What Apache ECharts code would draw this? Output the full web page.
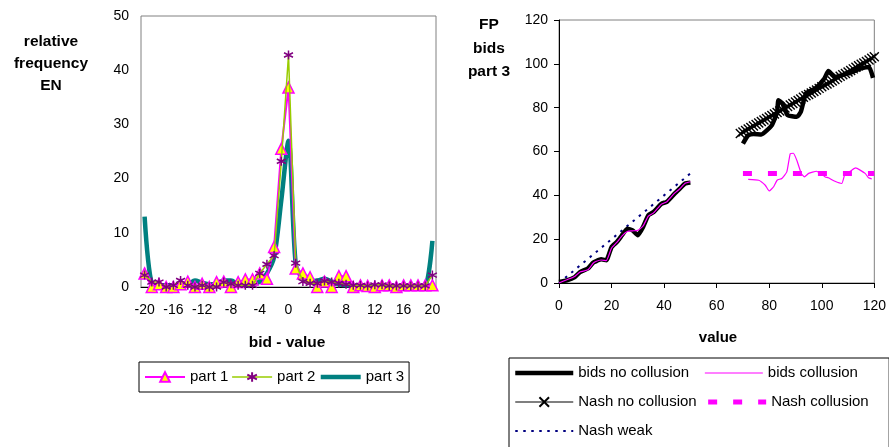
<!DOCTYPE html>
<html>
<head>
<meta charset="utf-8">
<script src="https://cdn.jsdelivr.net/npm/echarts@6/dist/echarts.min.js"></script>
<style>
html, body { margin: 0; padding: 0; background: #fff; }
#chart { width: 889px; height: 447px; }
</style>
</head>
<body>
<div id="chart"></div>
<script>
// left panel: relative frequency of bid - value
const bidDiffs = [-20, -19, -18, -17, -16, -15, -14, -13, -12, -11, -10, -9, -8, -7, -6, -5, -4, -3, -2, -1,
  0, 1, 2, 3, 4, 5, 6, 7, 8, 9, 10, 11, 12, 13, 14, 15, 16, 17, 18, 19, 20]
const part1 = [2.5, 0, 0.5, 0, 0, 0.5, 1, 0, 0.6, 0, 0.9, 1, 0, 0.9, 1.4, 1.4, 2.5, 1.5, 7.4, 25.5,
  36.8, 3.4, 2.5, 1.8, 0, 1, 0, 2, 2, 0, 0.3, 0.2, 0, 0.3, 0.3, 0, 0.3, 0.3, 0.3, 0.3, 0.3]
const part2 = [2.2, 0.9, 0.9, 0, 0.3, 1.2, 0.3, 0, 0.3, 0, 0, 0.9, 0.6, 0.3, 0.3, 0.3, 2.5, 4.2, 5.8, 23.2,
  42.8, 4.4, 1, 0.7, 0.7, 1.1, 0.9, 0.7, 0.5, 0.3, 0.3, 0.2, 0.4, 0.4, 0.2, 0.2, 0.2, 0.2, 0.2, 0.2, 2.2]
const part3 = [13, 0.6, 0.3, 0.3, 0.3, 0.5, 0.5, 1.2, 0.8, 0.5, 0.5, 1.2, 1.2, 0.5, 0.3, 0.5, 1, 2.5, 5.5, 16,
  27, 4.3, 1.5, 1, 1.2, 1.5, 1, 0.5, 0.3, 0.3, 0.2, 0.2, 0.2, 0.2, 0.2, 0.2, 0.2, 0.2, 0.2, 0.3, 8.5]

// right panel: FP bids part 3
const lowValues = [0, 3, 6, 8, 11, 13, 14, 16, 18, 20, 22, 24, 26, 28, 30, 32, 34, 36, 39, 41, 44, 46, 48, 50]
const bidsNoCollLow = [0.5, 1.2, 2.7, 5, 6.6, 9.3, 9.9, 10.8, 10.4, 16.4, 18.7, 21.8, 24.8, 24, 21.8, 25.6,
  30.9, 32.4, 36.2, 37, 40.8, 43.1, 45.4, 45.8]
const bidsCollLow = [0, 1.5, 3, 5, 6, 9, 9.8, 10.5, 10.2, 16, 18.5, 21.5, 23.5, 23.8, 24, 26,
  30.5, 32, 36, 37, 41, 43, 45.5, 46.2]
const highValuesNoColl = [70, 72, 74, 77, 81, 83, 83.5, 85, 87, 90.5, 92, 94, 97.5, 101, 102.5, 105, 110, 115, 118, 119.5]
const bidsNoCollHigh = [63.6, 67.4, 68, 67.8, 72, 78, 83.4, 82, 76.6, 75.8, 78, 86.5, 88.7, 93.3, 96.7, 94,
  95.6, 97.9, 98.6, 93.6]
const highValuesColl = [72, 76, 78.5, 80, 81.6, 83, 84.8, 86.7, 88, 89.2, 90.5, 92.2, 93.4, 95, 98, 99.4,
  101.3, 102.5, 105, 107.6, 108.9, 110.8, 112.9, 114.6, 116.5, 117.8, 119]
const bidsCollHigh = [47.3, 46.9, 44.6, 42, 43.8, 46.9, 47.7, 50.7, 59, 59.2, 56, 50, 48.4, 50, 51, 50,
  48.4, 48, 46.4, 45.4, 50, 51, 52.5, 51.5, 50, 48, 47.5]
const nashValues = [69, 70, 71, 72, 73, 74, 75, 76, 77, 78, 79, 80, 81, 82, 83, 84, 85, 86, 87, 88, 89, 90,
  91, 92, 93, 94, 95, 96, 97, 98, 99, 100, 101, 102, 103, 104, 105, 106, 107, 108, 109, 110,
  111, 112, 113, 114, 115, 116, 117, 118, 119, 120]
const nashNoColl = [68.2, 68.9, 69.6, 70.3, 70.9, 71.6, 72.3, 73.0, 73.7, 74.4, 75.1, 75.7, 76.4, 77.1, 77.8,
  78.5, 79.2, 79.9, 80.5, 81.2, 81.9, 82.6, 83.3, 84.0, 84.7, 85.4, 86.0, 86.7, 87.4, 88.1, 88.8, 89.5,
  90.2, 90.8, 91.5, 92.2, 92.9, 93.6, 94.3, 95.0, 95.6, 96.3, 97.0, 97.7, 98.4, 99.1, 99.8, 100.4,
  101.1, 101.8, 102.5, 103.2]
const nashCollValues = [70, 120]
const nashColl = [50, 50]
const weakValues = [0, 50]
const nashWeak = [0, 50]

const font = 'Liberation Sans, Arial, sans-serif'
const pairs = (xs, ys) => xs.map((x, i) => [x, ys[i]])
const gap = [[60, '-']]

const axisBase = {
  axisLine: { lineStyle: { color: '#000', width: 1 } },
  axisTick: { lineStyle: { color: '#000' }, length: 5 },
  axisLabel: { color: '#000', fontSize: 14, fontFamily: font },
  splitLine: { show: false },
}

const title = (text, x, y, size) => ({
  type: 'text', x, y,
  style: { text, font: 'bold ' + size + 'px ' + font, fill: '#000', textAlign: 'center', textVerticalAlign: 'middle' },
})

const chart = echarts.init(document.getElementById('chart'))
chart.setOption({
  animation: false,
  backgroundColor: '#fff',
  textStyle: { fontFamily: font },
  grid: [
    { left: 141, top: 16, width: 295, height: 271, show: true, borderColor: '#808080', borderWidth: 1 },
    { left: 559, top: 20, width: 318, height: 263, show: true, borderColor: '#808080', borderWidth: 1 },
  ],
  xAxis: [
    {
      ...axisBase,
      gridIndex: 0,
      type: 'category',
      data: bidDiffs.map(String),
      boundaryGap: true,
      axisTick: { ...axisBase.axisTick, interval: 19 },
      axisLabel: { ...axisBase.axisLabel, interval: 3, margin: 16 },
    },
    {
      ...axisBase,
      gridIndex: 1,
      type: 'value',
      min: 0, max: 120, interval: 20,
      axisLabel: { ...axisBase.axisLabel, margin: 16 },
    },
  ],
  yAxis: [
    { ...axisBase, gridIndex: 0, type: 'value', min: 0, max: 50, interval: 10,
      axisLabel: { ...axisBase.axisLabel, margin: 12 } },
    { ...axisBase, gridIndex: 1, type: 'value', min: 0, max: 120, interval: 20,
      axisLabel: { ...axisBase.axisLabel, margin: 11 } },
  ],
  legend: [
    {
      left: 139, top: 362,
      padding: [6, 5, 6, 5],
      itemWidth: 40, itemHeight: 12, itemGap: 3,
      borderColor: '#000', borderWidth: 1,
      textStyle: { color: '#000', fontSize: 15, fontFamily: font, lineHeight: 18 },
      lineStyle: { width: 'inherit' },
      data: ['part 1', 'part 2', 'part 3'],
    },
    {
      left: 509, top: 358, width: 375,
      padding: [5, 1, 30, 4],
      itemWidth: 58, itemHeight: 12, itemGap: 9,
      borderColor: '#000', borderWidth: 1,
      textStyle: { color: '#000', fontSize: 15, fontFamily: font, lineHeight: 20, width: 117 },
      lineStyle: { width: 'inherit' },
      data: ['bids no collusion', 'bids collusion', 'Nash no collusion', 'Nash collusion', 'Nash weak'],
    },
  ],
  graphic: [
    title('relative', 51, 42, 15.5),
    title('frequency', 51, 64, 15.5),
    title('EN', 51, 86, 15.5),
    title('bid - value', 287, 343, 15.5),
    title('FP', 489, 25, 15.5),
    title('bids', 489, 49, 15.5),
    title('part 3', 489, 72, 15.5),
    title('value', 718, 338, 15),
  ],
  series: [
    {
      name: 'part 3', type: 'line', xAxisIndex: 0, yAxisIndex: 0, z: 1,
      data: part3, symbol: 'none', smooth: 0.3,
      lineStyle: { color: '#008080', width: 4.5 },
      itemStyle: { color: 'rgba(0,0,0,0)' },
    },
    {
      name: 'part 1', type: 'line', xAxisIndex: 0, yAxisIndex: 0, z: 3,
      data: part1, symbol: 'triangle', symbolSize: 11, showAllSymbol: true,
      lineStyle: { color: '#ff00ff', width: 2 },
      itemStyle: { color: '#ffff00', borderColor: '#ff00ff', borderWidth: 1.5 },
    },
    {
      name: 'part 2', type: 'line', xAxisIndex: 0, yAxisIndex: 0, z: 4,
      data: part2, showAllSymbol: true,
      symbol: 'path://M5,0L5,10M0.7,2.5L9.3,7.5M9.3,2.5L0.7,7.5', symbolSize: 9,
      lineStyle: { color: '#99cc00', width: 1.5 },
      itemStyle: { color: 'rgba(0,0,0,0)', borderColor: '#800080', borderWidth: 1.5 },
    },
    {
      name: 'bids no collusion', type: 'line', xAxisIndex: 1, yAxisIndex: 1, z: 3,
      data: pairs(lowValues, bidsNoCollLow).concat(gap, pairs(highValuesNoColl, bidsNoCollHigh)),
      symbol: 'none', smooth: 0.15,
      lineStyle: { color: '#000', width: 4.5 },
      itemStyle: { color: 'rgba(0,0,0,0)' },
    },
    {
      name: 'bids collusion', type: 'line', xAxisIndex: 1, yAxisIndex: 1, z: 4,
      data: pairs(lowValues, bidsCollLow).concat(gap, pairs(highValuesColl, bidsCollHigh)),
      symbol: 'none', smooth: 0.15,
      lineStyle: { color: '#ff00ff', width: 1.2 },
      itemStyle: { color: 'rgba(0,0,0,0)' },
    },
    {
      name: 'Nash no collusion', type: 'line', xAxisIndex: 1, yAxisIndex: 1, z: 2,
      data: pairs(nashValues, nashNoColl), showAllSymbol: true,
      symbol: 'path://M0,0L10,10M10,0L0,10', symbolSize: 9,
      lineStyle: { color: '#000', width: 1.2 },
      itemStyle: { color: 'rgba(0,0,0,0)', borderColor: '#000', borderWidth: 1.4 },
    },
    {
      name: 'Nash collusion', type: 'line', xAxisIndex: 1, yAxisIndex: 1, z: 2,
      data: pairs(nashCollValues, nashColl), symbol: 'none',
      lineStyle: { color: '#ff00ff', width: 5, type: [9, 16] },
      itemStyle: { color: 'rgba(0,0,0,0)' },
    },
    {
      name: 'Nash weak', type: 'line', xAxisIndex: 1, yAxisIndex: 1, z: 2,
      data: pairs(weakValues, nashWeak), symbol: 'none',
      lineStyle: { color: '#000080', width: 2, type: [2.5, 5.5] },
      itemStyle: { color: 'rgba(0,0,0,0)' },
    },
  ],
})
</script>
</body>
</html>
